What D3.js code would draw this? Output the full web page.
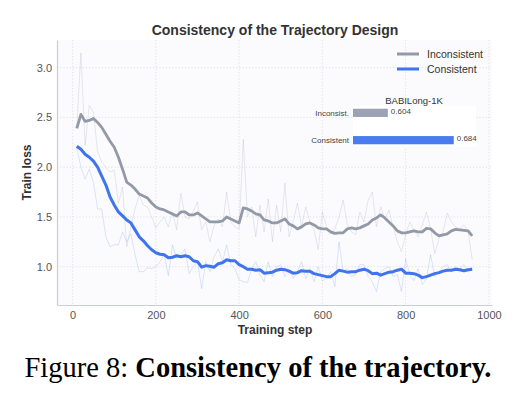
<!DOCTYPE html>
<html>
<head>
<meta charset="utf-8">
<title>Consistency of the Trajectory Design</title>
<script src="https://cdn.jsdelivr.net/npm/d3@7"></script>
<style>
  body { margin: 0; background: #fff; }
  text { font-family: "Liberation Sans", Arial, sans-serif; }
</style>
</head>
<body>
<div id="chart"></div>
<script>
// training steps 10..960, every 10
const steps = [10,20,30,40,50,60,70,80,90,100,110,120,130,140,150,160,170,180,190,200,
  210,220,230,240,250,260,270,280,290,300,310,320,330,340,350,360,370,380,390,400,
  410,420,430,440,450,460,470,480,490,500,510,520,530,540,550,560,570,580,590,600,
  610,620,630,640,650,660,670,680,690,700,710,720,730,740,750,760,770,780,790,800,
  810,820,830,840,850,860,870,880,890,900,910,920,930,940,950,960];

const inconsRaw = [2.40,3.15,2.22,2.62,2.55,2.16,2.05,2.00,1.95,1.97,1.64,1.80,1.20,1.40,1.58,1.72,1.62,1.60,1.50,1.39,
  1.45,1.50,1.40,1.55,1.37,1.74,1.50,1.48,1.56,1.65,1.37,1.45,1.25,1.42,1.48,1.40,1.75,1.45,1.40,1.38,
  2.28,1.50,1.60,1.30,1.62,1.35,1.68,1.25,1.62,1.35,1.84,1.30,1.45,1.64,1.40,1.60,1.45,1.37,1.17,1.55,
  1.40,1.33,1.38,1.50,1.67,1.42,1.35,1.32,1.55,1.45,1.67,1.75,1.40,1.60,1.48,1.57,1.40,1.25,1.15,1.32,
  1.45,1.37,1.30,1.42,1.55,1.38,1.13,1.28,1.35,1.54,1.45,1.40,1.38,1.42,1.35,1.07];

const inconsSmooth = [2.39,2.53,2.46,2.47,2.49,2.45,2.40,2.33,2.26,2.20,2.10,1.98,1.85,1.82,1.78,1.73,1.71,1.69,1.64,1.60,
  1.58,1.57,1.55,1.53,1.51,1.55,1.55,1.52,1.52,1.54,1.51,1.48,1.45,1.45,1.45,1.46,1.50,1.48,1.46,1.44,
  1.59,1.58,1.56,1.53,1.52,1.47,1.46,1.44,1.44,1.46,1.48,1.43,1.41,1.38,1.40,1.43,1.44,1.42,1.39,1.38,
  1.38,1.35,1.335,1.34,1.34,1.38,1.39,1.38,1.39,1.41,1.43,1.47,1.49,1.52,1.49,1.45,1.41,1.36,1.34,1.34,
  1.35,1.36,1.35,1.35,1.385,1.38,1.34,1.31,1.32,1.33,1.36,1.375,1.37,1.365,1.36,1.31];

const consRaw = [2.20,2.00,1.88,1.98,1.85,1.58,1.58,1.30,1.20,1.22,1.22,1.35,1.25,1.33,1.12,0.95,0.95,0.99,0.98,1.00,
  1.05,1.12,0.91,1.22,1.08,1.12,1.18,0.93,1.00,1.05,0.78,1.05,0.95,1.10,1.18,1.05,1.22,1.02,0.98,0.87,
  0.85,0.84,0.98,1.05,0.92,0.85,1.05,0.90,1.00,1.02,0.90,0.98,0.88,0.95,1.05,0.88,0.98,0.85,1.00,0.86,
  0.88,0.95,0.80,1.25,0.95,0.98,0.90,0.92,1.02,1.02,0.90,0.85,0.75,0.95,0.98,1.00,0.90,0.92,0.75,1.08,
  0.92,0.86,0.98,0.82,0.88,1.12,0.90,0.95,1.00,1.02,0.95,1.00,0.98,1.02,0.95,1.00];

const consSmooth = [2.21,2.18,2.13,2.10,2.06,2.00,1.91,1.82,1.70,1.62,1.55,1.51,1.47,1.44,1.37,1.30,1.26,1.21,1.17,1.14,
  1.125,1.12,1.09,1.095,1.11,1.10,1.11,1.10,1.06,1.05,0.995,1.01,1.005,0.995,1.03,1.04,1.07,1.06,1.06,1.02,
  1.00,0.975,0.975,0.965,0.97,0.935,0.94,0.945,0.965,0.975,0.97,0.955,0.935,0.94,0.96,0.955,0.955,0.93,0.92,0.91,
  0.90,0.90,0.93,0.965,0.955,0.945,0.95,0.95,0.965,0.975,0.96,0.93,0.935,0.915,0.93,0.945,0.95,0.965,0.975,0.935,
  0.935,0.93,0.915,0.89,0.90,0.915,0.93,0.94,0.955,0.965,0.965,0.975,0.97,0.96,0.97,0.975];

const xTicks = [0, 200, 400, 600, 800, 1000];
const yTicks = [1.0, 1.5, 2.0, 2.5, 3.0];

// inset: BABILong-1K accuracy
const insetLabels = ["Inconsist.", "Consistent"];
const insetValues = [0.604, 0.684];

const greyCol = "#9299a8", blueCol = "#3f74ee";
const insetCols = ["#9aa2b3", "#4a7cf0"];

const W = 523, H = 412;
const margin = {top: 40, right: 31, bottom: 107, left: 57};
const w = W - margin.left - margin.right;
const h = H - margin.top - margin.bottom;

const svg = d3.select("#chart").append("svg")
    .attr("width", W).attr("height", H);

const g = svg.append("g")
    .attr("transform", "translate(" + margin.left + "," + margin.top + ")");

const x = d3.scaleLinear().domain([-37.5, 1007.5]).range([0, w]);
const y = d3.scaleLinear().domain([0.615, 3.278]).range([h, 0]);

g.append("rect").attr("width", w).attr("height", h).attr("fill", "#fbfbfd");

// grid
g.append("g").selectAll("line").data(xTicks).join("line")
    .attr("x1", d => x(d)).attr("x2", d => x(d))
    .attr("y1", 0).attr("y2", h)
    .attr("stroke", "#d9dbe2").attr("stroke-width", 0.8).attr("stroke-dasharray", "1.2,2");
g.append("g").selectAll("line").data(yTicks).join("line")
    .attr("y1", d => y(d)).attr("y2", d => y(d))
    .attr("x1", 0).attr("x2", w)
    .attr("stroke", "#d9dbe2").attr("stroke-width", 0.8).attr("stroke-dasharray", "1.2,2");

// axes
const xAxis = g.append("g").attr("transform", "translate(0," + h + ")")
    .call(d3.axisBottom(x).tickValues(xTicks).tickSize(0).tickPadding(6).tickFormat(d3.format("d")));
const yAxis = g.append("g")
    .call(d3.axisLeft(y).tickValues(yTicks).tickSize(0).tickPadding(5).tickFormat(d3.format(".1f")));
[xAxis, yAxis].forEach(a => {
  a.select(".domain").attr("stroke", "#c9cdd8").attr("stroke-width", 1.2);
  a.selectAll("text").attr("font-size", 11).attr("fill", "#555")
    .attr("font-family", "Liberation Sans, Arial, sans-serif");
});

const line = d3.line().x((d, i) => x(steps[i])).y(d => y(d));

g.append("path").datum(inconsRaw).attr("d", line)
    .attr("fill", "none").attr("stroke", "#9299a8").attr("stroke-opacity", 0.22).attr("stroke-width", 1);
g.append("path").datum(consRaw).attr("d", line)
    .attr("fill", "none").attr("stroke", "#3f74ee").attr("stroke-opacity", 0.18).attr("stroke-width", 1);
g.append("path").datum(inconsSmooth).attr("d", line)
    .attr("fill", "none").attr("stroke", greyCol).attr("stroke-width", 2.8).attr("stroke-linejoin", "round");
g.append("path").datum(consSmooth).attr("d", line)
    .attr("fill", "none").attr("stroke", blueCol).attr("stroke-width", 3).attr("stroke-linejoin", "round");

// titles
svg.append("text").attr("x", 275).attr("y", 35).attr("text-anchor", "middle")
    .attr("font-size", 14).attr("font-weight", "bold").attr("fill", "#333")
    .text("Consistency of the Trajectory Design");
svg.append("text").attr("x", 275).attr("y", 334).attr("text-anchor", "middle")
    .attr("font-size", 12).attr("font-weight", "bold").attr("fill", "#333")
    .text("Training step");
svg.append("text").attr("transform", "translate(31,172.5) rotate(-90)").attr("text-anchor", "middle")
    .attr("font-size", 12).attr("font-weight", "bold").attr("fill", "#333")
    .text("Train loss");

// legend
const legend = svg.append("g").attr("transform", "translate(397,54)");
[["Inconsistent", greyCol], ["Consistent", blueCol]].forEach((d, i) => {
  legend.append("line").attr("x1", 0).attr("x2", 22).attr("y1", i * 15).attr("y2", i * 15)
      .attr("stroke", d[1]).attr("stroke-width", 3);
  legend.append("text").attr("x", 30).attr("y", i * 15 + 4).attr("font-size", 10.5).attr("fill", "#333")
      .text(d[0]);
});

// inset bar chart
const inset = svg.append("g").attr("transform", "translate(353,106)");
const iw = 123, ih = 41;
const ix = d3.scaleLinear().domain([0.5617, 0.711]).range([0, iw]);
const iy = d3.scaleLinear().domain([-0.25, 1.25]).range([0, ih]);
inset.append("rect").attr("width", iw).attr("height", ih).attr("fill", "#fff");
inset.selectAll(".bar").data(insetValues).join("rect")
    .attr("x", 0).attr("y", (d, i) => iy(i - 0.15))
    .attr("width", d => ix(d)).attr("height", iy(0.15) - iy(-0.15))
    .attr("fill", (d, i) => insetCols[i]);
inset.selectAll(".val").data(insetValues).join("text")
    .attr("x", d => ix(d) + 3).attr("y", (d, i) => iy(i) + 1)
    .attr("font-size", 8).attr("fill", "#444")
    .text(d => d3.format(".3f")(d));
inset.selectAll(".lab").data(insetLabels).join("text")
    .attr("x", -4).attr("y", (d, i) => iy(i) + 3).attr("text-anchor", "end")
    .attr("font-size", 8).attr("fill", "#444")
    .text(d => d);
inset.append("text").attr("x", 61).attr("y", -2).attr("text-anchor", "middle")
    .attr("font-size", 9.5).attr("fill", "#333").text("BABILong-1K");

// caption
const cap = svg.append("text").attr("x", 258).attr("y", 377).attr("text-anchor", "middle")
    .attr("font-size", 28.5).attr("fill", "#000")
    .style("font-family", "Liberation Serif, Times New Roman, serif");
cap.append("tspan").text("Figure 8: ");
cap.append("tspan").attr("font-weight", "bold").text("Consistency of the trajectory.");
</script>
</body>
</html>
